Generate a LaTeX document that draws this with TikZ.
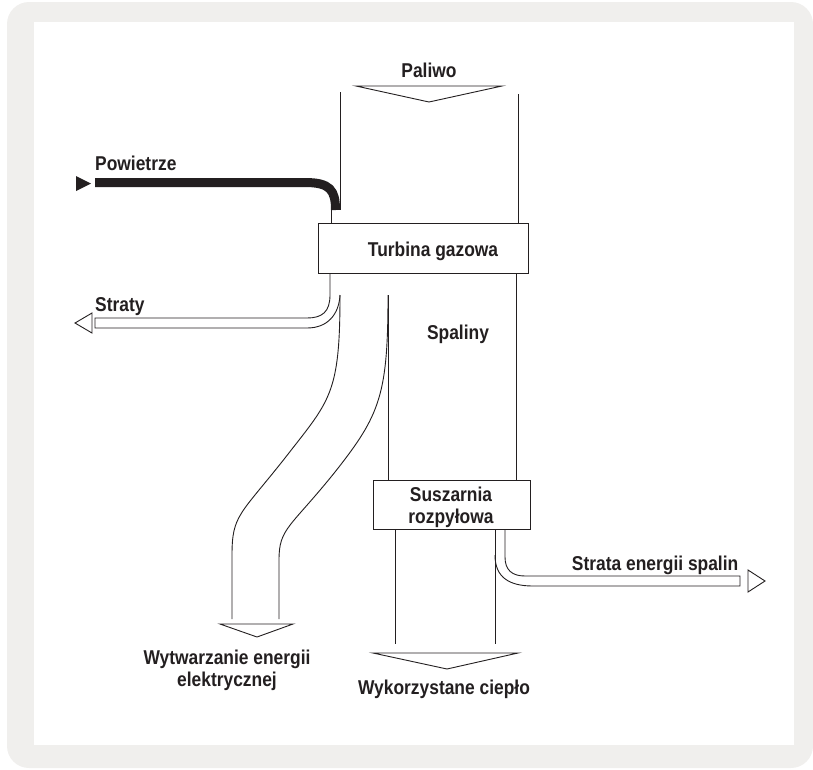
\documentclass[tikz,border=0pt]{standalone}
\usepackage{fontspec}
\setmainfont{Liberation Sans}[FakeStretch=0.87]
\definecolor{ink}{RGB}{35,31,32}
\definecolor{frame}{RGB}{240,239,237}
\begin{document}
\begin{tikzpicture}[x=1pt,y=-1pt,
  lbl/.style={font=\fontsize{20}{21.5}\selectfont\bfseries, text=ink, inner sep=0pt, align=center},
  ln/.style={draw=ink, line width=0.9pt},
  boxn/.style={draw=ink, line width=0.9pt, fill=white, inner sep=0pt},
  hollow/.style={draw=ink, line width=0.9pt, fill=white, line join=miter},
  solidtip/.style={fill=ink, draw=none},
  thickflow/.style={draw=ink, line width=9pt, line cap=butt}]
\useasboundingbox (0,0) rectangle (813,769);
\fill[frame, rounded corners=22pt] (7,2) rectangle (813,768);
\fill[white] (34,22) rectangle (794,745);

% ---- fuel input
\node[lbl, anchor=base] (paliwo) at (429,77) {Paliwo};
\coordinate (pa1) at (356,86);
\coordinate (pa2) at (502,86);
\coordinate (pa3) at (429,102);
\draw[hollow] (pa1) -- (pa2) -- (pa3) -- cycle;
\coordinate (cl1) at (340,92);
\coordinate (cl2) at (340,210);
\coordinate (cr1) at (518,94);
\coordinate (cr2) at (518,223);
\draw[ln] (cl1) -- (cl2);
\draw[ln] (cr1) -- (cr2);

% ---- air input
\coordinate (pw0) at (95,182.5);
\coordinate (pw1) at (305,182.5);
\coordinate (pw2) at (335.5,210);
\draw[thickflow] (pw0) -- (pw1) .. controls (330,182.5) and (335.5,190) .. (pw2);
\coordinate (pt1) at (76,176);
\coordinate (pt2) at (76,191);
\coordinate (pt3) at (91,183.5);
\fill[solidtip] (pt1) -- (pt2) -- (pt3) -- cycle;
\node[lbl, anchor=base west] (powietrze) at (95,170) {Powietrze};
\coordinate (al1) at (331,210);
\coordinate (al2) at (331,223);
\draw[ln] (al1) -- (al2);

% ---- losses (Straty)
\coordinate (st0) at (330,273);
\coordinate (st1) at (330,295);
\coordinate (st2) at (307,318);
\coordinate (st3) at (95,318);
\coordinate (st4) at (95,328);
\coordinate (st5) at (307,328);
\coordinate (fork) at (340,295);
\draw[ln] (st0) -- (st1) .. controls (330,312) and (322,318) .. (st2) -- (st3) -- (st4) -- (st5)
  .. controls (328,328) and (339,314) .. (fork);
\coordinate (sa1) at (92,313);
\coordinate (sa2) at (92,333);
\coordinate (sa3) at (75,323);
\draw[hollow] (sa1) -- (sa2) -- (sa3) -- cycle;
\node[lbl, anchor=base west] (straty) at (95,311.5) {Straty};

% ---- electricity band
\coordinate (el0) at (232,619);
\coordinate (er0) at (388,295);
\coordinate (er1) at (279,619);
\draw[ln] (fork) .. controls (340,395) and (330,400) .. (285,458)
  .. controls (240,515) and (232,515) .. (232,555) -- (el0);
\draw[ln] (er0) .. controls (388,395) and (380,415) .. (335,472)
  .. controls (290,528) and (279,528) .. (279,560) -- (er1);
\coordinate (ea1) at (220,624);
\coordinate (ea2) at (293,624);
\coordinate (ea3) at (257,637);
\draw[hollow] (ea1) -- (ea2) -- (ea3) -- cycle;
\node[lbl, anchor=base] (wytw) at (227,686) {Wytwarzanie energii\\elektrycznej};

% ---- flue gas column
\coordinate (ml1) at (388,480);
\coordinate (mr0) at (516,273);
\coordinate (mr1) at (516,480);
\draw[ln] (er0) -- (ml1);
\draw[ln] (mr0) -- (mr1);
\node[lbl, anchor=base] (spaliny) at (458,339) {Spaliny};

% ---- boxes
\node[boxn, minimum width=210pt, minimum height=50pt] (tg) at (423,248) {};
\node[lbl, anchor=base] (tgl) at (433,256) {Turbina gazowa};
\node[boxn, minimum width=157pt, minimum height=49pt] (sr) at (451.5,504.5) {};
\node[lbl, anchor=base] (srl) at (451,523.3) {Suszarnia\\rozpyłowa};

% ---- below dryer
\coordinate (hl0) at (395,529);
\coordinate (hl1) at (395,644);
\coordinate (hr0) at (495,529);
\coordinate (hr1) at (495,644);
\draw[ln] (hl0) -- (hl1);
\draw[ln] (hr0) -- (hr1);
\coordinate (ss0) at (505,529);
\coordinate (ss1) at (505,557);
\coordinate (ss2) at (525,576);
\coordinate (ss3) at (740,576);
\coordinate (ss4) at (740,586);
\coordinate (ss5) at (533,586);
\coordinate (ss6) at (495,555);
\draw[ln] (ss0) -- (ss1) .. controls (505,570) and (512,576) .. (ss2) -- (ss3) -- (ss4) -- (ss5)
  .. controls (510,586) and (495,578) .. (ss6);
\coordinate (sb1) at (748,570);
\coordinate (sb2) at (748,592);
\coordinate (sb3) at (765,581);
\draw[hollow] (sb1) -- (sb2) -- (sb3) -- cycle;
\node[lbl, anchor=base east] (strata) at (738.5,570) {Strata energii spalin};

% ---- useful heat
\coordinate (ha1) at (373,653);
\coordinate (ha2) at (518,653);
\coordinate (ha3) at (447,669);
\draw[hollow] (ha1) -- (ha2) -- (ha3) -- cycle;
\node[lbl, anchor=base] (cieplo) at (444,694.3) {Wykorzystane ciepło};
\end{tikzpicture}
\end{document}
